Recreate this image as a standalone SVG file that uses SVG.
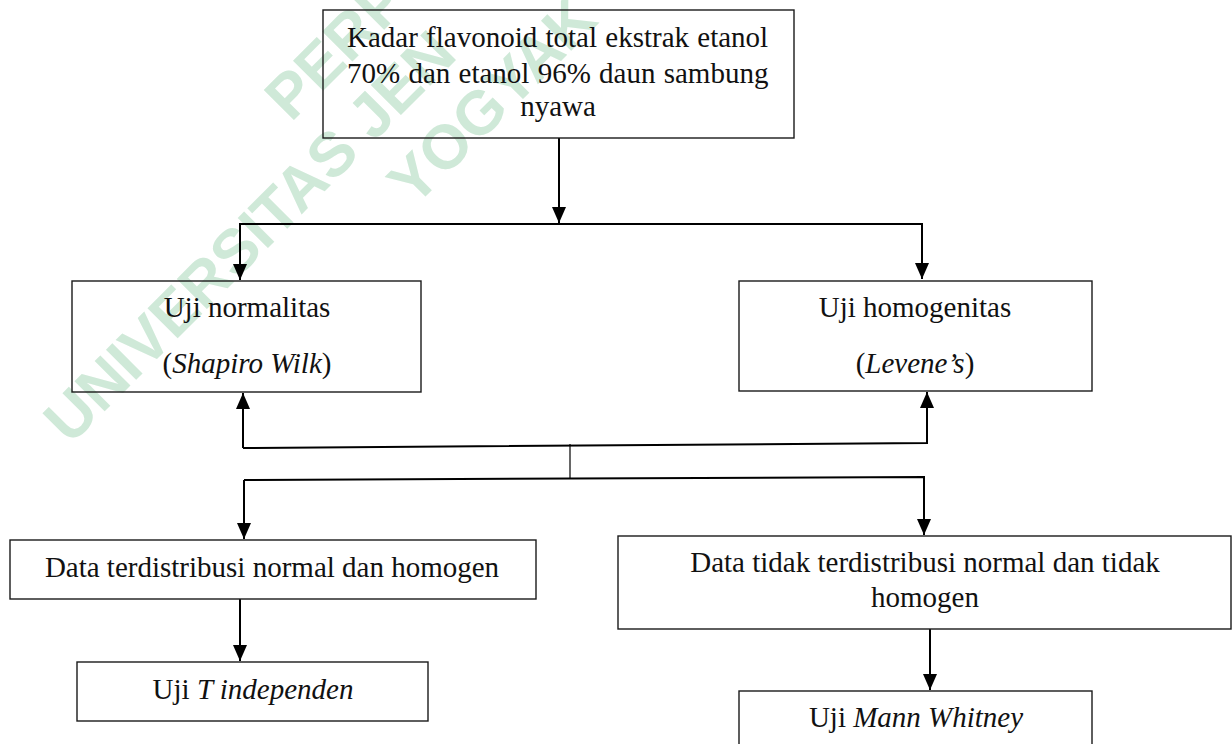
<svg xmlns="http://www.w3.org/2000/svg" width="1232" height="744" viewBox="0 0 1232 744">
  <style>
    .wm { font-family: "Liberation Sans", Arial, sans-serif; font-weight: bold; font-size: 62px; fill: #cfe9d8; }
    .box { fill: none; stroke: #1a1a1a; stroke-width: 1.4; }
    .t { font-family: "Liberation Serif", "Times New Roman", serif; font-size: 29px; fill: #111; }
    .c { text-anchor: middle; }
    .i { font-style: italic; }
    .ln { fill: none; stroke: #000; stroke-width: 2; }
    .thin { fill: none; stroke: #000; stroke-width: 1.2; }
  </style>
  <defs>
    <marker id="arr" viewBox="0 0 16 14" refX="16" refY="7" markerWidth="16" markerHeight="14" markerUnits="userSpaceOnUse" orient="auto">
      <path d="M0,0 L16,7 L0,14 z" fill="#000"/>
    </marker>
  </defs>
  <rect width="1232" height="744" fill="#fff"/>

  <g id="watermark">
    <text class="wm" transform="translate(291,123) rotate(-45)">PERPU</text>
    <text class="wm" transform="translate(70,446) rotate(-45)">UNIVERSITAS JEN</text>
    <text class="wm" transform="translate(414,208) rotate(-45)">YOGYAK</text>
  </g>

  <g id="connectors">
    <line class="ln" x1="559" y1="138" x2="559" y2="223" marker-end="url(#arr)"/>
    <line class="ln" x1="239" y1="224" x2="923" y2="224"/>
    <line class="ln" x1="240" y1="224" x2="240" y2="280" marker-end="url(#arr)"/>
    <line class="ln" x1="922" y1="224" x2="922" y2="279" marker-end="url(#arr)"/>
    <polyline class="ln" points="243,448 927,443 927,392" marker-end="url(#arr)"/>
    <line class="ln" x1="243" y1="448" x2="243" y2="393" marker-end="url(#arr)"/>
    <line class="thin" x1="570" y1="444" x2="570" y2="478"/>
    <polyline class="ln" points="244,480 924,477 924,535" marker-end="url(#arr)"/>
    <line class="ln" x1="244" y1="480" x2="244" y2="539" marker-end="url(#arr)"/>
    <line class="ln" x1="240" y1="599" x2="240" y2="661" marker-end="url(#arr)"/>
    <line class="ln" x1="930" y1="629" x2="930" y2="690" marker-end="url(#arr)"/>
  </g>

  <g id="node-top">
    <rect class="box" x="323" y="10" width="471" height="128"/>
    <text class="t" x="347" y="47" word-spacing="1">Kadar flavonoid total ekstrak etanol</text>
    <text class="t" x="347" y="83" word-spacing="1">70% dan etanol 96% daun sambung</text>
    <text class="t c" x="558" y="116">nyawa</text>
  </g>

  <g id="node-normalitas">
    <rect class="box" x="72" y="281" width="349" height="111"/>
    <text class="t c" x="247" y="317">Uji normalitas</text>
    <text class="t c" x="247" y="373">(<tspan class="i">Shapiro Wilk</tspan>)</text>
  </g>

  <g id="node-homogenitas">
    <rect class="box" x="739" y="281" width="353" height="110"/>
    <text class="t c" x="915" y="317">Uji homogenitas</text>
    <text class="t c" x="915" y="373">(<tspan class="i">Levene’s</tspan>)</text>
  </g>

  <g id="node-normal">
    <rect class="box" x="10" y="540" width="526" height="59"/>
    <text class="t c" x="272" y="577">Data terdistribusi normal dan homogen</text>
  </g>

  <g id="node-tidak-normal">
    <rect class="box" x="618" y="536" width="613" height="93"/>
    <text class="t c" x="925" y="572">Data tidak terdistribusi normal dan tidak</text>
    <text class="t c" x="925" y="607">homogen</text>
  </g>

  <g id="node-t">
    <rect class="box" x="77" y="662" width="351" height="59"/>
    <text class="t c" x="253" y="699">Uji <tspan class="i">T independen</tspan></text>
  </g>

  <g id="node-mann">
    <rect class="box" x="739" y="691" width="353" height="70"/>
    <text class="t c" x="916" y="727">Uji <tspan class="i">Mann Whitney</tspan></text>
  </g>
</svg>
